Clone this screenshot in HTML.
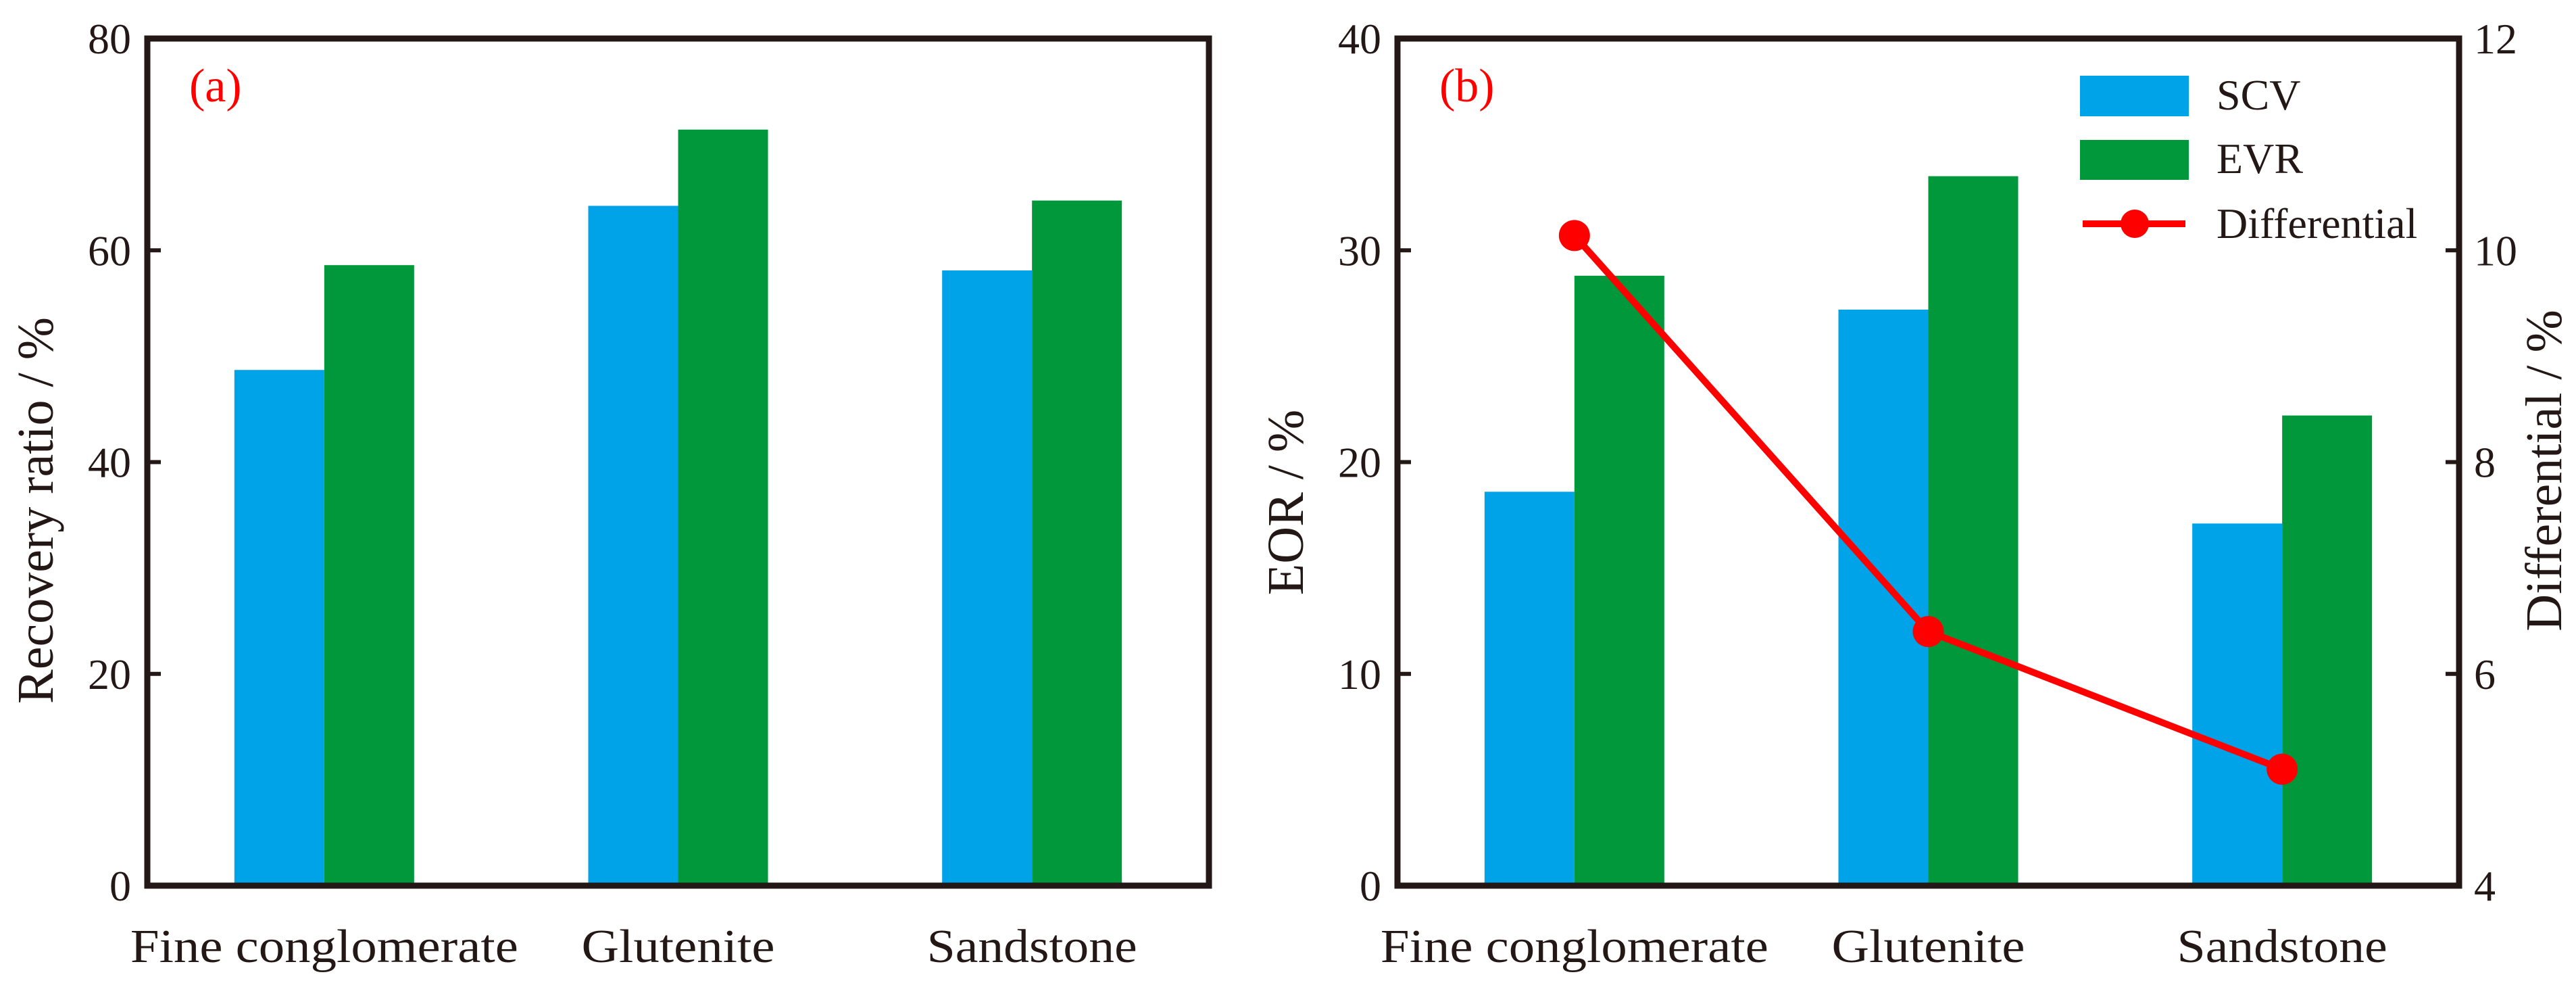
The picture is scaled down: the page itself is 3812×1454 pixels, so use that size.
<!DOCTYPE html>
<html><head><meta charset="utf-8">
<style>
html,body{margin:0;padding:0;background:#fff;}
svg{display:block;font-family:"Liberation Serif",serif;}
</style></head>
<body>
<svg id="chart" width="3812" height="1454" viewBox="0 0 3812 1454" xmlns="http://www.w3.org/2000/svg">
<rect x="0" y="0" width="3812" height="1454" fill="#fff"/>
<g id="pa"></g>
<g id="pb"></g>
</svg>
<script>
const categories = ["Fine conglomerate", "Glutenite", "Sandstone"];
const recoverySCV = [48.7, 64.2, 58.1];
const recoveryEVR = [58.6, 71.4, 64.7];
const eorSCV = [18.6, 27.2, 17.1];
const eorEVR = [28.8, 33.5, 22.2];
const differential = [10.14, 6.4, 5.1];
const ticksA = [0, 20, 40, 60, 80];
const ticksBLeft = [0, 10, 20, 30, 40];
const ticksBRight = [4, 6, 8, 10, 12];

const NS = "http://www.w3.org/2000/svg";
const TOP = 57, BOT = 1310, BW = 133;
const labelLens = [574, 286, 311];
function mk(parent, tag, attrs, text) {
  const e = document.createElementNS(NS, tag);
  for (const k in attrs) e.setAttribute(k, attrs[k]);
  if (text !== undefined) e.textContent = text;
  parent.appendChild(e);
  return e;
}
function yScale(min, max) { return v => BOT - (v - min) / (max - min) * (BOT - TOP); }
function xBand(x0, x1) { const w = (x1 - x0) / categories.length; return i => x0 + w * (i + 0.5); }

function panel(g, x0, x1, s1, s2, ticks, min, max, tag, title, titleY) {
  const y = yScale(min, max), xc = xBand(x0, x1);
  categories.forEach((c, i) => {
    const r1 = mk(g, "rect", {x: xc(i) - BW, y: y(s1[i]), width: BW, height: BOT - y(s1[i]), fill: "#00a3e8"});
    
    
    const r2 = mk(g, "rect", {x: xc(i), y: y(s2[i]), width: BW, height: BOT - y(s2[i]), fill: "#00983a"});
    
    
    const t = mk(g, "text", {x: xc(i), y: 1423, "font-size": 70, "text-anchor": "middle", fill: "#231815", textLength: labelLens[i], lengthAdjust: "spacingAndGlyphs"}, c);
    
    
  });
  ticks.forEach(v => {
    const tk = mk(g, "line", {x1: x0, x2: x0 + 20, y1: y(v), y2: y(v), stroke: "#231815", "stroke-width": 6});
    
    
    const tl = mk(g, "text", {x: x0 - 24, y: y(v) + 22, "font-size": 64, "text-anchor": "end", fill: "#231815"}, v);
    
    
  });
  const fr = mk(g, "rect", {x: x0, y: TOP, width: x1 - x0, height: BOT - TOP, fill: "none", stroke: "#231815", "stroke-width": 9});
  
  
  const pt = mk(g, "text", {x: x0 + 62, y: 150, "font-size": 70, fill: "#ff0000"}, tag);
  
  
  const yt = mk(g, "text", {x: 0, y: 0, "font-size": 76, "text-anchor": "middle", fill: "#231815", transform: "translate(" + (x0 - 140) + "," + titleY + ") rotate(-90)"}, title);
  
  
  return {y, xc};
}

const ga = document.getElementById("pa");
panel(ga, 218, 1789, recoverySCV, recoveryEVR, ticksA, 0, 80, "(a)", "Recovery ratio / %", 755);

const gb = document.getElementById("pb");
const B0 = 2068, B1 = 3639;
const pbres = panel(gb, B0, B1, eorSCV, eorEVR, ticksBLeft, 0, 40, "(b)", "EOR / %", 743);
const yr = yScale(4, 12);
ticksBRight.forEach(v => {
  const tk = mk(gb, "line", {x1: B1 - 20, x2: B1, y1: yr(v), y2: yr(v), stroke: "#231815", "stroke-width": 6});
  
  
  const tl = mk(gb, "text", {x: B1 + 22, y: yr(v) + 22, "font-size": 64, fill: "#231815"}, v);
  
  
});
const rt = mk(gb, "text", {x: 0, y: 0, "font-size": 76, "text-anchor": "middle", fill: "#231815", transform: "translate(3790,696) rotate(-90)"}, "Differential / %");



const pts = differential.map((v, i) => pbres.xc(i) + "," + yr(v)).join(" ");
const pl = mk(gb, "polyline", {points: pts, fill: "none", stroke: "#ff0000", "stroke-width": 10});


differential.forEach((v, i) => {
  const c = mk(gb, "circle", {cx: pbres.xc(i), cy: yr(v), r: 23, fill: "#ff0000"});
  
  
});

const lg = mk(gb, "g", {});


const l1 = mk(lg, "rect", {x: 3078, y: 112, width: 161, height: 60, fill: "#00a3e8"});


const t1 = mk(lg, "text", {x: 3280, y: 162, "font-size": 64, fill: "#231815"}, "SCV");


const l2 = mk(lg, "rect", {x: 3078, y: 207, width: 161, height: 59, fill: "#00983a"});


const t2 = mk(lg, "text", {x: 3280, y: 256, "font-size": 64, fill: "#231815"}, "EVR");


const l3 = mk(lg, "line", {x1: 3082, x2: 3234, y1: 331, y2: 331, stroke: "#ff0000", "stroke-width": 10});


const l3c = mk(lg, "circle", {cx: 3159, cy: 331, r: 21, fill: "#ff0000"});


const t3 = mk(lg, "text", {x: 3280, y: 352, "font-size": 64, fill: "#231815"}, "Differential");


</script>
</body></html>
